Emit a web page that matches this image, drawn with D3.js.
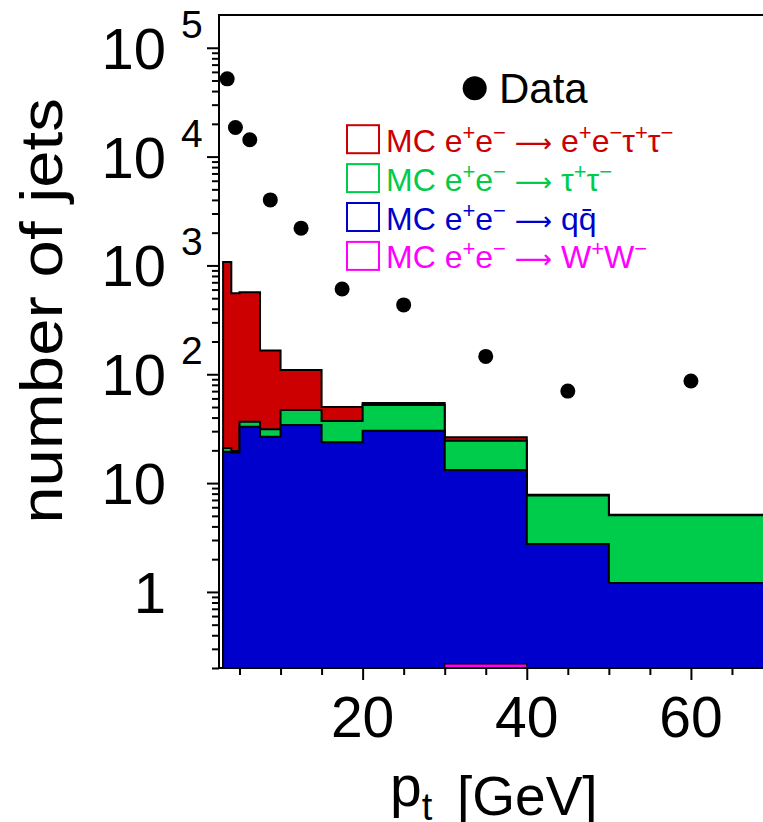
<!DOCTYPE html>
<html>
<head>
<meta charset="utf-8">
<script src="https://cdn.jsdelivr.net/npm/d3@7"></script>
<style>
  html, body { margin: 0; padding: 0; background: #fff; }
  svg { display: block; }
  text { font-family: "Liberation Sans", Arial, Helvetica, sans-serif; }
</style>
</head>
<body>
<div id="chart"></div>
<script>
// ---------------- data ----------------
const binEdges = [3, 4, 5, 7.5, 10, 15, 20, 30, 40, 50, 70];
const wwValues = [0, 0, 0, 0, 0, 0, 0, 0.218, 0, 0];
const qqValues = [19.4, 19.1, 33.0, 26.7, 34.2, 23.7, 30.3, 13.0, 2.76, 1.21];
const tautauValues = [1.6, 0.6, 3.7, 4.5, 12.8, 13.5, 21.9, 11.3, 4.94, 3.85];
const eetautauValues = [1056, 535, 530, 134, 62.6, 12.8, 2.3, 1.9, 0.1, 0.06];
const dataX = [3.5, 4.5, 6.25, 8.75, 12.5, 17.5, 25, 35, 45, 60];
const dataValues = [51800, 18500, 14300, 4000, 2200, 608, 434, 146, 70, 86.8];
const yMajorTicks = [1, 10, 100, 1000, 10000, 100000];
const yTickBase = ["1", "10", "10", "10", "10", "10"];
const yTickExp = ["", "", "2", "3", "4", "5"];
const xMajorTicks = [20, 40, 60];
const xMinorTicks = [5, 10, 15, 25, 30, 35, 45, 50, 55, 65, 70];
const seriesColors = ["#cc0000", "#00cc4c", "#0000cc", "#ff00ff"];
// segment: [text, kind]  kind: 0 normal, 1 superscript, 2 arrow
const legendEntries = [
  [["MC e"], ["+", 1], ["e"], ["\u2212", 1], [" "], ["\u27f6", 2], [" e"], ["+", 1], ["e"], ["\u2212", 1], ["\u03c4"], ["+", 1], ["\u03c4"], ["\u2212", 1]],
  [["MC e"], ["+", 1], ["e"], ["\u2212", 1], [" "], ["\u27f6", 2], [" \u03c4"], ["+", 1], ["\u03c4"], ["\u2212", 1]],
  [["MC e"], ["+", 1], ["e"], ["\u2212", 1], [" "], ["\u27f6", 2], [" qq\u0304"]],
  [["MC e"], ["+", 1], ["e"], ["\u2212", 1], [" "], ["\u27f6", 2], [" W"], ["+", 1], ["W"], ["\u2212", 1]]
];

// ---------------- layout ----------------
const W = 763, H = 822;
const pLeft = 219, pRight = 773, pTop = 15, pBottom = 668;

const svg = d3.select("#chart").append("svg")
  .attr("width", W).attr("height", H).attr("viewBox", `0 0 ${W} ${H}`);

const x = d3.scaleLinear().domain([2.5, 70]).range([pLeft, pRight]);
const y = d3.scaleLog().domain([0.2, 2e5]).range([pBottom, pTop]);

svg.append("clipPath").attr("id", "plotclip")
  .append("rect").attr("x", pLeft).attr("y", pTop).attr("width", pRight - pLeft).attr("height", pBottom - pTop);

// stacked cumulative series: WW at bottom, then qq, tautau, eetautau
const cumWW = wwValues.slice();
const cumQQ = qqValues.map((v, i) => v + cumWW[i]);
const cumTT = tautauValues.map((v, i) => v + cumQQ[i]);
const cumEE = eetautauValues.map((v, i) => v + cumTT[i]);

function yc(v) { return y(Math.max(v, 0.2)); }
function histPath(vals) {
  const p = d3.path();
  p.moveTo(x(binEdges[0]), pBottom);
  vals.forEach((v, i) => {
    p.lineTo(x(binEdges[i]), yc(v));
    p.lineTo(x(binEdges[i + 1]), yc(v));
  });
  p.lineTo(x(binEdges[binEdges.length - 1]), pBottom);
  p.closePath();
  return p.toString();
}

const plot = svg.append("g").attr("clip-path", "url(#plotclip)");
[[cumEE, seriesColors[0], 2], [cumTT, seriesColors[1], 2], [cumQQ, seriesColors[2], 2], [cumWW, seriesColors[3], 1.2]]
  .forEach(([vals, col, sw]) => {
    plot.append("path").attr("d", histPath(vals))
      .attr("fill", col).attr("stroke", "#000").attr("stroke-width", sw)
      .attr("stroke-linejoin", "miter");
  });

// data points
plot.selectAll("circle.data").data(dataX).enter().append("circle")
  .attr("class", "data")
  .attr("cx", d => x(d)).attr("cy", (d, i) => y(dataValues[i])).attr("r", 7.5)
  .attr("fill", "#000");

// ---------------- axes ----------------
const yMinor = [];
for (let e = -1; e <= 5; e++) {
  for (let m = 2; m <= 9; m++) {
    const v = m * Math.pow(10, e);
    if (v >= 0.2 && v < 2e5) yMinor.push(v);
  }
}
function styleAxis(g) {
  g.select(".domain").remove();
  g.selectAll(".tick line").attr("stroke", "#000").attr("stroke-width", 2);
  g.selectAll(".tick text").remove();
}
svg.append("g").attr("transform", `translate(${pLeft},0)`)
  .call(d3.axisLeft(y).tickValues(yMinor).tickSize(7).tickFormat(""))
  .call(styleAxis);
svg.append("g").attr("transform", `translate(${pLeft},0)`)
  .call(d3.axisLeft(y).tickValues(yMajorTicks).tickSize(12).tickFormat(""))
  .call(styleAxis);
svg.append("g").attr("transform", `translate(0,${pBottom})`)
  .call(d3.axisBottom(x).tickValues(xMinorTicks).tickSize(7).tickFormat(""))
  .call(styleAxis);
svg.append("g").attr("transform", `translate(0,${pBottom})`)
  .call(d3.axisBottom(x).tickValues(xMajorTicks).tickSize(12).tickFormat(""))
  .call(styleAxis);

// frame
svg.append("line").attr("x1", pLeft).attr("x2", W).attr("y1", pTop).attr("y2", pTop)
  .attr("stroke", "#000").attr("stroke-width", 2);
svg.append("line").attr("x1", pLeft).attr("x2", W).attr("y1", pBottom).attr("y2", pBottom)
  .attr("stroke", "#000").attr("stroke-width", 2);
svg.append("line").attr("x1", pLeft).attr("x2", pLeft).attr("y1", pTop - 1).attr("y2", pBottom + 1)
  .attr("stroke", "#000").attr("stroke-width", 2);

// y tick labels
yMajorTicks.forEach((v, i) => {
  svg.append("text").attr("x", 166).attr("y", y(v) + 21)
    .attr("text-anchor", "end").attr("font-size", 58).attr("fill", "#000")
    .text(yTickBase[i]);
  if (yTickExp[i]) {
    svg.append("text").attr("x", 181).attr("y", y(v) - 10)
      .attr("font-size", 39).attr("fill", "#000").text(yTickExp[i]);
  }
});

// x tick labels
xMajorTicks.forEach(v => {
  svg.append("text").attr("x", x(v)).attr("y", 737)
    .attr("text-anchor", "middle").attr("font-size", 57).attr("fill", "#000")
    .text(String(v));
});

// axis titles
svg.append("text")
  .attr("transform", "translate(62,311) rotate(-90) scale(1.12,1)")
  .attr("text-anchor", "middle").attr("font-size", 60).attr("fill", "#000")
  .text("number of jets");

const xt = svg.append("text").attr("x", 390).attr("y", 806).attr("font-size", 57).attr("fill", "#000");
xt.append("tspan").text("p");
xt.append("tspan").attr("font-size", 38).attr("dy", 14).text("t");
svg.append("text").attr("x", 457).attr("y", 815).attr("font-size", 55).attr("fill", "#000")
  .text("[GeV]");

// ---------------- legend ----------------
svg.append("circle").attr("cx", 474.7).attr("cy", 88.3).attr("r", 12).attr("fill", "#000");
svg.append("text").attr("x", 499).attr("y", 103).attr("font-size", 42).attr("fill", "#000").text("Data");

legendEntries.forEach((segs, i) => {
  const yb = 151.7 + i * 38.9;
  const col = seriesColors[i];
  svg.append("rect").attr("x", 347).attr("y", yb - 26.5).attr("width", 32).attr("height", 28)
    .attr("fill", "none").attr("stroke", col).attr("stroke-width", 2);
  const t = svg.append("text").attr("x", 386).attr("y", yb).attr("font-size", 32).attr("fill", col);
  let raised = false;
  segs.forEach(([str, kind]) => {
    const ts = t.append("tspan").text(str);
    if (kind === 1) {
      ts.attr("font-size", 22);
      if (!raised) { ts.attr("dy", -12); raised = true; }
    } else {
      if (raised) { ts.attr("dy", 12); raised = false; }
      if (kind === 2) ts.attr("font-family", "DejaVu Sans").attr("font-size", 26);
    }
  });
});
</script>
</body>
</html>
